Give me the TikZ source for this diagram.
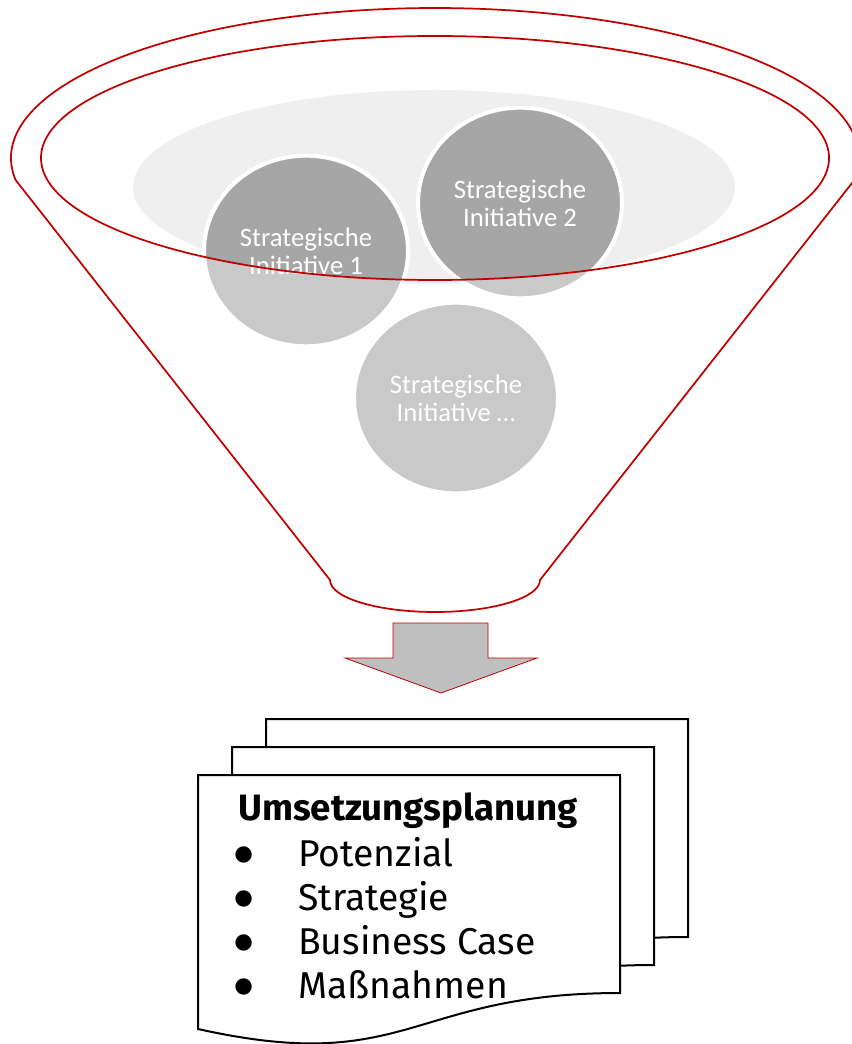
\documentclass[tikz,border=0pt]{standalone}
\usepackage{fontspec}
\setmainfont{Fira Sans}
\newfontfamily\bubblefont{Carlito}
\newfontfamily\dotfont{DejaVu Sans}
\usetikzlibrary{shapes.geometric}

\definecolor{funnelred}{HTML}{C00000}
\definecolor{bowlgrey}{HTML}{EFEFEF}
\definecolor{lightgrey}{HTML}{C9C9C9}
\definecolor{darkgrey}{HTML}{A6A6A6}
\definecolor{arrowgrey}{HTML}{BFBFBF}

\begin{document}
\begin{tikzpicture}[%
            x=0.75pt, y=0.75pt,
            funnel/.style={draw=funnelred, line width=1.3pt},
            initiative/.style={shape=ellipse, minimum width=153pt, minimum height=143pt,
                inner sep=0pt, fill=lightgrey, draw=white, line width=3pt, text=white,
                align=center, font=\bubblefont\fontsize{20}{21}\selectfont,
                path picture={\fill[darkgrey] (rim) ellipse [x radius=394, y radius=122];}},
            page/.style={draw=black, line width=1.5pt, fill=white},
            item/.style={anchor=base west, inner sep=0pt, font=\fontsize{28}{33}\selectfont}
        ]
        \useasboundingbox (0,0) rectangle (851,-1044);
        \coordinate (rim) at (435,-158);

        % funnel top
        \fill [bowlgrey] (434,-187) ellipse [x radius=301, y radius=97];
        \node [initiative] (init1) at (306,-251) {Strategische\\Initiative 1};
        \node [initiative] (init2) at (520,-203) {Strategische\\Initiative 2};
        \node [initiative] (init3) at (456,-398) {Strategische\\Initiative \dots};
        \draw [funnel] (rim) ellipse [x radius=394, y radius=122];
        \draw [funnel] (15.6,-180) arc [start angle=188.43, end angle=-8.43, x radius=424, y radius=150]
              -- (540,-580) arc [start angle=0, end angle=-180, x radius=105, y radius=32] -- cycle;

        % arrow
        \draw [fill=arrowgrey, draw=funnelred, line width=0.6pt]
              (393,-623) -- (488,-623) -- (488,-658) -- (537,-658) --
              (441,-693) -- (345,-658) -- (393,-658) -- cycle;

        % pages
        \begin{scope}[shift={(266,-719)}]
            \draw [page] (0,0) -- (422,0) -- (422,-218) .. controls (211,-218) and (211,-301) .. (0,-254) -- cycle;
        \end{scope}
        \begin{scope}[shift={(232,-747)}]
            \draw [page] (0,0) -- (422,0) -- (422,-218) .. controls (211,-218) and (211,-301) .. (0,-254) -- cycle;
        \end{scope}
        \begin{scope}[shift={(198,-775)}]
            \draw [page] (0,0) -- (422,0) -- (422,-218) .. controls (211,-218) and (211,-301) .. (0,-254) -- cycle;
        \end{scope}

        \node [item, font=\bfseries\fontsize{27.5}{33}\selectfont] (title) at (238,-820) {Umsetzungsplanung};
        \node [item] (item1) at (234,-866) {\makebox[48pt][l]{\dotfont\fontsize{16}{18}\selectfont\raisebox{4.5pt}{●}}Potenzial};
        \node [item] (item2) at (234,-910) {\makebox[48pt][l]{\dotfont\fontsize{16}{18}\selectfont\raisebox{4.5pt}{●}}Strategie};
        \node [item] (item3) at (234,-954) {\makebox[48pt][l]{\dotfont\fontsize{16}{18}\selectfont\raisebox{4.5pt}{●}}Business Case};
        \node [item] (item4) at (234,-998) {\makebox[48pt][l]{\dotfont\fontsize{16}{18}\selectfont\raisebox{4.5pt}{●}}Maßnahmen};
    \end{tikzpicture}
\end{document}
